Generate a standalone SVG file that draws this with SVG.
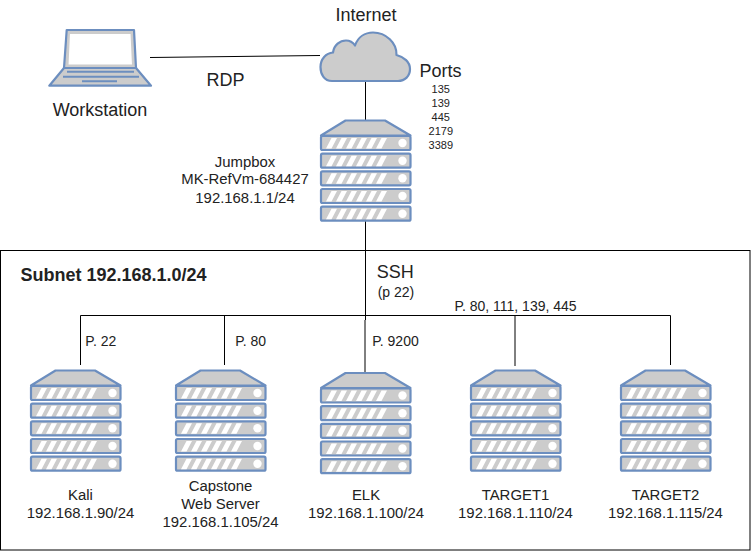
<svg xmlns="http://www.w3.org/2000/svg" width="751" height="551" viewBox="0 0 751 551">
<style>
text{font-family:"Liberation Sans",Arial,sans-serif;fill:#222222;text-anchor:middle}
.f15{font-size:14.9px}.f14{font-size:14px}.f11{font-size:11px}.f18{font-size:18px}
.ic{fill:#cccccc;stroke:#6c8ebf;stroke-width:2.200;stroke-linejoin:round}
.st{fill:#fff;stroke:none}
.ln{fill:none;stroke:#000;stroke-width:1}
</style>
<defs>
<g id="row">
<rect class="ic" x="1" y="1" width="89.500" height="14" rx="1.500"/>
<path class="st" d="M6 13.500L11.500 3H17L11.500 13.500ZM16 13.500L21.500 3H27L21.500 13.500ZM26 13.500L31.500 3H37L31.500 13.500ZM36 13.500L41.500 3H47L41.500 13.500ZM46 13.500L51.500 3H57L51.500 13.500ZM56 13.500L61.500 3H67L61.500 13.500Z"/>
<circle class="st" cx="82.500" cy="8" r="4.200"/>
</g>
<g id="server">
<path class="ic" d="M1 15.500L25.500 0.500H65L90.500 15.500Z"/>
<use href="#row" y="15"/><use href="#row" y="32.700"/><use href="#row" y="50.300"/><use href="#row" y="68"/><use href="#row" y="85.700"/>
</g>
</defs>
<rect x="0.500" y="250.500" width="749.500" height="299.500" fill="#fff" stroke="#000"/>
<g id="connectors">
<path class="ln" d="M150 57.500L320 55.500"/>
<path class="ln" d="M365.500 81V120M365.500 221V320M80.500 365V315.500H670.500V365M224.500 315.500V365"/>
<path class="ln" d="M365 320V372M515 315.500V366"/>
</g>
<g id="workstation">
<path class="ic" d="M66.700 30H134L136 68H64Z"/>
<path d="M69 33H131.500L133 65.500H67.500Z" fill="#fff" stroke="#ccc" stroke-width="2"/>
<path class="ic" d="M64 68H136L151 85.700H49.300Z"/>
<path d="M67 71.700H134M63 76.700H139M82 81.300H117" stroke="#6c8ebf" stroke-width="2" fill="none"/>
<text x="100" y="115.500" class="f18">Workstation</text>
</g>
<g id="internet">
<path class="ic" d="M332 81C324 81 320.500 74 320.500 67C320.500 59 326 53 333 52.500C334 45 340 40.500 346 40.500C350 40.500 353 42.500 355 45.500C358 37 365 32.500 373 32.500C386 32.500 397 43 396.500 55C404 57 410 62 410 69C410 76 405 81 398 81Z"/>
<text x="366" y="20.500" class="f18">Internet</text>
</g>
<g id="ports">
<text x="440.500" y="77" class="f18">Ports</text>
<text x="440.800" y="93" class="f11">135</text>
<text x="440.800" y="107" class="f11">139</text>
<text x="440.800" y="121" class="f11">445</text>
<text x="440.800" y="135" class="f11">2179</text>
<text x="440.800" y="149" class="f11">3389</text>
</g>
<g id="jumpbox">
<use href="#server" x="320" y="120"/>
<text x="245" y="167" class="f15">Jumpbox</text>
<text x="245" y="184" class="f15">MK-RefVm-684427</text>
<text x="245" y="203" class="f15">192.168.1.1/24</text>
</g>
<g id="rdp"><text x="225.500" y="86" class="f18">RDP</text></g>
<g id="subnet"><text x="20.500" y="281" style="font-size:18px;font-weight:bold;text-anchor:start">Subnet 192.168.1.0/24</text></g>
<g id="ssh"><text x="395.300" y="278" class="f18">SSH</text><text x="396" y="297" class="f14">(p 22)</text></g>
<g id="kali"><use href="#server" x="30" y="370"/><text x="80.500" y="500" class="f15">Kali</text><text x="80.500" y="518" class="f15">192.168.1.90/24</text></g>
<g id="capstone"><use href="#server" x="175" y="370"/><text x="220.500" y="491" class="f15">Capstone</text><text x="220.500" y="509" class="f15">Web Server</text><text x="220.500" y="527" class="f15">192.168.1.105/24</text></g>
<g id="elk"><use href="#server" x="320" y="372.500"/><text x="366" y="500" class="f15">ELK</text><text x="366" y="518" class="f15">192.168.1.100/24</text></g>
<g id="target1"><use href="#server" x="470" y="370"/><text x="515.500" y="500" class="f15">TARGET1</text><text x="515.500" y="518" class="f15">192.168.1.110/24</text></g>
<g id="target2"><use href="#server" x="620" y="370"/><text x="665.500" y="500" class="f15">TARGET2</text><text x="665.500" y="518" class="f15">192.168.1.115/24</text></g>
<g id="labels">
<text x="100.800" y="346" class="f14">P. 22</text>
<text x="250.700" y="346" class="f14">P. 80</text>
<text x="395.500" y="346" class="f14">P. 9200</text>
<text x="515.500" y="311" class="f14">P. 80, 111, 139, 445</text>
</g>
</svg>
